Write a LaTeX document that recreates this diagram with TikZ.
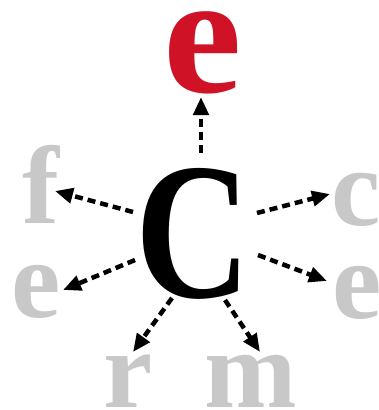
\documentclass[tikz,border=0pt]{standalone}
\usepackage{fontspec}
\newfontfamily\letterfont{Liberation Serif}
\usepackage{xcolor}
\usepackage{tikz}
\usetikzlibrary{arrows.meta, positioning, calc}

\definecolor{lettergray}{RGB}{200,200,200}
\definecolor{letterred}{RGB}{208,18,38}

\tikzset{
    letter/.style={anchor=base, inner sep=0pt,
        font=\letterfont\bfseries\fontsize{111}{111}\selectfont, text=lettergray},
    dasharrow/.style={line width=4.5pt, dash pattern=on 8pt off 5pt,
        -{Triangle[length=18pt,width=15pt]}}
}

\begin{document}
\begin{tikzpicture}[x=1pt, y=-1pt]
    \useasboundingbox (0,0) rectangle (379,410);
    % the letters
    \node[letter, xscale=1.03, text=letterred, font=\letterfont\bfseries\fontsize{172}{172}\selectfont] (eTop) at (203,92) {e};
    \node[letter, xscale=0.82, text=black, font=\letterfont\bfseries\fontsize{195}{195}\selectfont] (C) at (193,297) {C};
    \node[letter] (fL) at (41,223) {f};
    \node[letter] (eL) at (36,317) {e};
    \node[letter] (cR) at (356,225) {c};
    \node[letter] (eR) at (357,318) {e};
    \node[letter] (rB) at (128,407) {r};
    \node[letter] (mB) at (251,407) {m};
    % arrow ends
    \coordinate (s1) at (201,153);
    \coordinate (t1) at (201,97);
    \coordinate (s2) at (133,212);
    \coordinate (t2) at (55,191);
    \coordinate (s3) at (257,213);
    \coordinate (t3) at (330,194);
    \coordinate (s4) at (135,260);
    \coordinate (t4) at (63,290);
    \coordinate (s5) at (258,255);
    \coordinate (t5) at (327,281);
    \coordinate (s6) at (172,298);
    \coordinate (t6) at (133,352);
    \coordinate (s7) at (225,300);
    \coordinate (t7) at (260,352);
    \foreach \i in {1,...,7} \draw[dasharrow] (s\i) -- (t\i);
\end{tikzpicture}
\end{document}
